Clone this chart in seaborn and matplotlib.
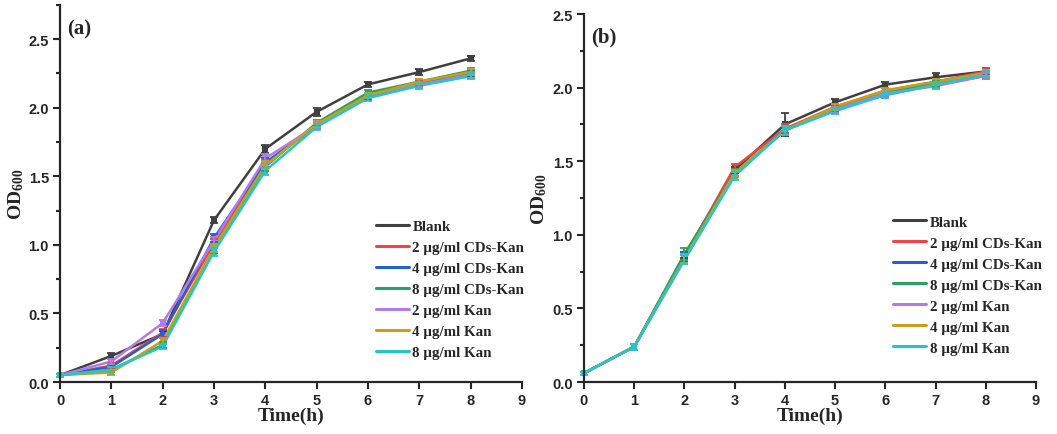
"""Growth curves (OD600 vs time) for two conditions, panels (a) and (b)."""
import pandas as pd
import matplotlib
matplotlib.use('Agg')
import matplotlib.pyplot as plt
from matplotlib.lines import Line2D
from matplotlib.ticker import MultipleLocator
import seaborn as sns

time_h = [0, 1, 2, 3, 4, 5, 6, 7, 8]
groups = ['Blank', '2 µg/ml CDs-Kan', '4 µg/ml CDs-Kan', '8 µg/ml CDs-Kan',
          '2 µg/ml Kan', '4 µg/ml Kan', '8 µg/ml Kan']
colors = ['#404040', '#f04444', '#2060dc', '#2aa066', '#b07de8', '#c9a012', '#22c8c8']

# panel (a)
od_a = [
    [0.05, 0.19, 0.35, 1.18, 1.70, 1.97, 2.17, 2.26, 2.36],
    [0.05, 0.12, 0.36, 1.01, 1.59, 1.87, 2.09, 2.18, 2.25],
    [0.05, 0.11, 0.35, 1.05, 1.60, 1.87, 2.08, 2.17, 2.25],
    [0.05, 0.09, 0.27, 0.97, 1.57, 1.89, 2.11, 2.19, 2.27],
    [0.05, 0.15, 0.43, 1.03, 1.63, 1.87, 2.09, 2.17, 2.24],
    [0.05, 0.07, 0.30, 0.98, 1.58, 1.88, 2.09, 2.19, 2.26],
    [0.05, 0.09, 0.26, 0.95, 1.54, 1.86, 2.07, 2.16, 2.23],
]
err_a = [
    [0.01, 0.02, 0.02, 0.02, 0.03, 0.03, 0.02, 0.02, 0.02],
    [0.01, 0.02, 0.03, 0.03, 0.03, 0.02, 0.02, 0.02, 0.02],
    [0.01, 0.02, 0.03, 0.03, 0.03, 0.02, 0.02, 0.02, 0.02],
    [0.01, 0.02, 0.02, 0.03, 0.03, 0.02, 0.02, 0.02, 0.02],
    [0.01, 0.02, 0.02, 0.03, 0.03, 0.02, 0.02, 0.02, 0.02],
    [0.01, 0.02, 0.02, 0.03, 0.03, 0.02, 0.02, 0.02, 0.02],
    [0.01, 0.02, 0.02, 0.03, 0.03, 0.02, 0.02, 0.02, 0.02],
]

# panel (b)
od_b = [
    [0.06, 0.24, 0.86, 1.44, 1.75, 1.90, 2.02, 2.07, 2.11],
    [0.06, 0.24, 0.85, 1.46, 1.72, 1.87, 1.98, 2.04, 2.11],
    [0.06, 0.24, 0.85, 1.42, 1.71, 1.85, 1.95, 2.02, 2.08],
    [0.06, 0.24, 0.87, 1.42, 1.71, 1.86, 1.97, 2.03, 2.09],
    [0.06, 0.24, 0.83, 1.41, 1.71, 1.85, 1.96, 2.01, 2.08],
    [0.06, 0.24, 0.84, 1.42, 1.71, 1.87, 1.98, 2.04, 2.10],
    [0.06, 0.24, 0.83, 1.40, 1.71, 1.84, 1.95, 2.02, 2.09],
]
err_b = [
    [0.01, 0.02, 0.02, 0.02, 0.08, 0.02, 0.02, 0.03, 0.02],
    [0.01, 0.02, 0.03, 0.02, 0.03, 0.02, 0.02, 0.02, 0.02],
    [0.01, 0.02, 0.03, 0.02, 0.03, 0.02, 0.02, 0.02, 0.02],
    [0.01, 0.02, 0.04, 0.03, 0.03, 0.02, 0.03, 0.02, 0.02],
    [0.01, 0.02, 0.03, 0.02, 0.03, 0.02, 0.02, 0.02, 0.02],
    [0.01, 0.02, 0.03, 0.02, 0.03, 0.02, 0.02, 0.02, 0.02],
    [0.01, 0.02, 0.03, 0.03, 0.03, 0.02, 0.02, 0.02, 0.02],
]

sns.set_style('ticks')
plt.rcParams['font.family'] = ['Liberation Sans', 'DejaVu Sans']
plt.rcParams['font.weight'] = 'bold'
plt.rcParams['mathtext.fontset'] = 'custom'
plt.rcParams['mathtext.rm'] = 'Liberation Serif:bold'
plt.rcParams['mathtext.it'] = 'Liberation Serif:bold'
plt.rcParams['mathtext.bf'] = 'Liberation Serif:bold'

SERIF = ['Liberation Serif', 'DejaVu Serif']


def long_table(values):
    rows = []
    for g, vals in zip(groups, values):
        for t, v in zip(time_h, vals):
            rows.append({'time': t, 'od': v, 'group': g})
    return pd.DataFrame(rows)


def draw_panel(ax, values, errors, ymax, tag, legend_anchor):
    df = long_table(values)
    sns.lineplot(data=df, x='time', y='od', hue='group', hue_order=groups,
                 palette=colors, marker='s', markersize=5, markeredgewidth=0,
                 linewidth=1.8, legend=False, ax=ax, clip_on=False)
    for g, c, vals, errs in zip(groups, colors, values, errors):
        ax.errorbar(time_h, vals, yerr=errs, fmt='none', ecolor=c,
                    elinewidth=1.3, capsize=3, capthick=1.3, clip_on=False)
    ax.set_xlim(0, 9)
    ax.set_ylim(0, ymax)
    ax.xaxis.set_major_locator(MultipleLocator(1))
    ax.yaxis.set_major_locator(MultipleLocator(0.5))
    ax.yaxis.set_minor_locator(MultipleLocator(0.25))
    ax.tick_params(which='major', length=5, width=1.5, labelsize=10.5, pad=3)
    ax.tick_params(axis='y', which='minor', length=3, width=1.5)
    for side in ['left', 'bottom']:
        ax.spines[side].set_linewidth(1.6)
    sns.despine(ax=ax)
    ax.set_xlabel('Time(h)', family=SERIF, fontsize=14, fontweight='bold', labelpad=0)
    ax.set_ylabel('OD$_{600}$', family=SERIF, fontsize=14, fontweight='bold', labelpad=2)
    ax.text(0.015, 0.965, tag, transform=ax.transAxes, family=SERIF, fontsize=15,
            fontweight='bold', va='top', ha='left')
    handles = [Line2D([0], [0], color=c, lw=2.2) for c in colors]
    ax.legend(handles, groups, loc='lower left', bbox_to_anchor=legend_anchor,
              frameon=False, handlelength=2.2, handletextpad=0.25,
              labelspacing=0.5, borderaxespad=0,
              prop={'family': SERIF, 'weight': 'bold', 'size': 10.8})


fig = plt.figure(figsize=(10.57, 4.35), dpi=100)
ax_a = fig.add_axes([0.0568, 0.1195, 0.437, 0.867])
ax_b = fig.add_axes([0.5525, 0.1195, 0.4276, 0.846])

draw_panel(ax_a, od_a, err_a, 2.75, '(a)', (0.67, 0.045))
draw_panel(ax_b, od_b, err_b, 2.5, '(b)', (0.67, 0.058))

fig.savefig('out.png', dpi=100)
